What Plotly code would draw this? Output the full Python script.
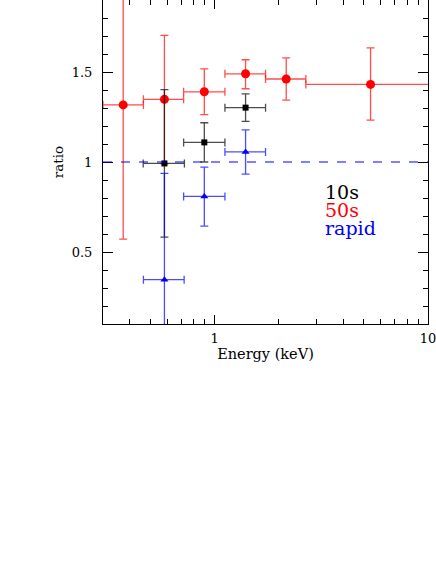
import plotly.graph_objects as go
import numpy as np

# 10s
e10 = [0.582, 0.895, 1.397]
e10_lo = [0.463, 0.716, 1.118]
e10_hi = [0.722, 1.118, 1.733]
r10 = [0.992, 1.109, 1.302]
r10_up = [1.402, 1.218, 1.378]
r10_dn = [0.583, 1.000, 1.226]

# 50s
e50 = [0.373, 0.582, 0.895, 1.397, 2.166, 5.38]
e50_lo = [0.30, 0.464, 0.716, 1.118, 1.733, 2.677]
e50_hi = [0.464, 0.716, 1.118, 1.733, 2.677, 10.8]
r50 = [1.317, 1.348, 1.39, 1.49, 1.461, 1.431]
r50_up = [2.0, 1.703, 1.517, 1.568, 1.578, 1.634]
r50_dn = [0.572, 0.99, 1.263, 1.407, 1.344, 1.233]

# rapid
er = [0.582, 0.895, 1.397]
er_lo = [0.464, 0.716, 1.118]
er_hi = [0.72, 1.118, 1.733]
rr = [0.346, 0.809, 1.056]
rr_up = [0.937, 0.972, 1.179]
rr_dn = [0.0, 0.644, 0.933]

FONT = "DejaVu Serif"


def trace(x, xlo, xhi, y, yup, ydn, color, ecolor, symbol, size):
    x = np.array(x); y = np.array(y)
    return go.Scatter(
        x=x, y=y, mode="markers",
        marker=dict(color=color, symbol=symbol, size=size, line=dict(width=0)),
        error_x=dict(type="data", symmetric=False,
                     array=np.array(xhi) - x, arrayminus=x - np.array(xlo),
                     color=ecolor, thickness=1.3, width=4),
        error_y=dict(type="data", symmetric=False,
                     array=np.array(yup) - y, arrayminus=y - np.array(ydn),
                     color=ecolor, thickness=1.3, width=4),
        showlegend=False, hoverinfo="skip",
    )


fig = go.Figure()
fig.add_hline(y=1, line=dict(color="blue", width=1, dash="dash"))
fig.add_trace(trace(e50, e50_lo, e50_hi, r50, r50_up, r50_dn,
                    "#ff0000", "rgba(255,0,0,0.7)", "circle", 9))
fig.add_trace(trace(e10, e10_lo, e10_hi, r10, r10_up, r10_dn,
                    "#000000", "rgba(0,0,0,0.7)", "square", 6))
fig.add_trace(trace(er, er_lo, er_hi, rr, rr_up, rr_dn,
                    "#0000ff", "rgba(0,0,255,0.7)", "triangle-up", 7))

labels = [("10s", "black", 0.835), ("50s", "red", 0.733), ("rapid", "blue", 0.635)]
for txt, col, yy in labels:
    fig.add_annotation(x=0.677, xref="paper", y=yy, yref="y", text=txt,
                       showarrow=False, xanchor="left", yanchor="middle",
                       font=dict(family=FONT, size=19, color=col))

xminor = [0.4, 0.5, 0.6, 0.7, 0.8, 0.9, 2, 3, 4, 5, 6, 7, 8, 9]
fig.update_xaxes(type="log", range=[np.log10(0.3), 1], tickvals=[1, 10],
                 ticktext=["1", "10"], ticks="inside", ticklen=9,
                 tickcolor="black", showline=True, linecolor="black",
                 linewidth=1, mirror="allticks", showgrid=False, zeroline=False,
                 automargin=False, ticklabelstandoff=2, ticklabeloverflow="allow",
                 minor=dict(tickvals=xminor, ticks="inside", ticklen=5,
                            tickcolor="black", showgrid=False),
                 tickfont=dict(family=FONT, size=13, color="black"),
                 title=dict(text="Energy (keV)", standoff=4,
                            font=dict(family=FONT, size=14.5, color="black")))
fig.update_yaxes(range=[0.1, 1.9], tickvals=[0.5, 1, 1.5],
                 ticktext=["0.5", "1", "1.5"], ticks="inside", ticklen=10,
                 tickcolor="black", showline=True, linecolor="black",
                 linewidth=1, mirror="allticks", showgrid=False, zeroline=False,
                 automargin=False, ticklabelstandoff=7,
                 minor=dict(dtick=0.1, ticks="inside", ticklen=5,
                            tickcolor="black", showgrid=False),
                 tickfont=dict(family=FONT, size=13, color="black"),
                 title=dict(text="ratio", standoff=4,
                            font=dict(family=FONT, size=13.5, color="black")))
fig.update_layout(width=436, height=573,
                  margin=dict(l=103, r=8, t=0, b=249, pad=0),
                  plot_bgcolor="white", paper_bgcolor="white")
fig.write_html("out.html", config={"displayModeBar": False},
               post_script="document.body.style.margin='0';document.body.style.padding='0';")
